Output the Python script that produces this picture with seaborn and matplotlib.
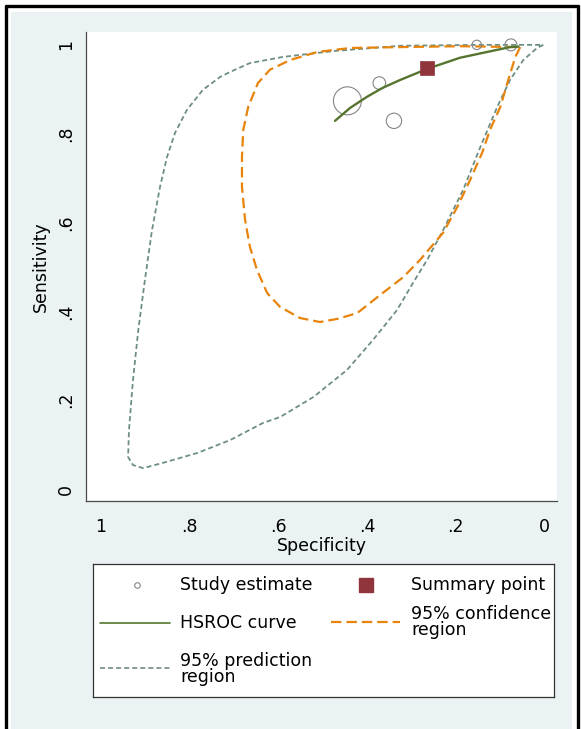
import matplotlib
matplotlib.use("Agg")
import matplotlib.pyplot as plt
from matplotlib.lines import Line2D
from matplotlib.patches import Rectangle
import seaborn as sns
import pandas as pd

# ---- data -------------------------------------------------------------
# individual studies (specificity, sensitivity, study weight)
study_spec = [0.444, 0.372, 0.339, 0.152, 0.075]
study_sens = [0.874, 0.914, 0.829, 1.000, 1.000]
study_weight = [196, 40, 59, 22, 36]

# summary operating point
summary_spec = [0.265]
summary_sens = [0.947]

# HSROC curve
hsroc_spec = [0.472, 0.438, 0.400, 0.365, 0.325, 0.264, 0.190, 0.129, 0.077, 0.058]
hsroc_sens = [0.829, 0.858, 0.883, 0.903, 0.921, 0.946, 0.971, 0.984, 0.995, 0.996]

# 95% confidence region around the summary point
conf_spec = [0.054, 0.065, 0.081, 0.099, 0.122, 0.140, 0.167, 0.196, 0.228, 0.280,
             0.318, 0.370, 0.422, 0.467, 0.506, 0.551, 0.596, 0.625, 0.648, 0.664,
             0.675, 0.682, 0.682, 0.679, 0.668, 0.646, 0.619, 0.573, 0.512, 0.438,
             0.325, 0.190, 0.054]
conf_sens = [0.995, 0.973, 0.921, 0.860, 0.809, 0.757, 0.696, 0.635, 0.577, 0.516,
             0.477, 0.437, 0.396, 0.383, 0.376, 0.385, 0.410, 0.441, 0.493, 0.545,
             0.606, 0.680, 0.748, 0.809, 0.860, 0.914, 0.944, 0.966, 0.984, 0.993,
             0.995, 0.997, 0.995]

# 95% prediction region
pred_spec = [0.002, 0.016, 0.047, 0.077, 0.106, 0.144, 0.183, 0.228, 0.264, 0.296,
             0.332, 0.386, 0.445, 0.521, 0.596, 0.634, 0.709, 0.783, 0.860, 0.905,
             0.928, 0.939, 0.937, 0.928, 0.916, 0.901, 0.885, 0.867, 0.851, 0.833,
             0.806, 0.770, 0.731, 0.709, 0.664, 0.589, 0.476, 0.325, 0.150, 0.002]
pred_sens = [1.000, 0.993, 0.966, 0.921, 0.860, 0.770, 0.673, 0.583, 0.516, 0.464,
             0.403, 0.336, 0.268, 0.207, 0.162, 0.149, 0.110, 0.081, 0.059, 0.047,
             0.054, 0.072, 0.133, 0.245, 0.358, 0.471, 0.583, 0.680, 0.748, 0.802,
             0.854, 0.899, 0.928, 0.939, 0.959, 0.973, 0.986, 0.998, 1.000, 1.000]

tick_values = [1, 0.8, 0.6, 0.4, 0.2, 0]
tick_labels = ["1", ".8", ".6", ".4", ".2", "0"]
ytick_values = [0, 0.2, 0.4, 0.6, 0.8, 1]
ytick_labels = ["0", ".2", ".4", ".6", ".8", "1"]

# ---- style ------------------------------------------------------------
sns.set_style("white")
plt.rcParams["font.family"] = ["DejaVu Sans"]
plt.rcParams["text.color"] = "black"
plt.rcParams["axes.labelcolor"] = "black"
plt.rcParams["lines.scale_dashes"] = False
FS = 12.5
C_STUDY = "#858585"
C_SUMMARY = "#90353B"
C_HSROC = "#55752F"
C_CONF = "#E8840C"
C_PRED = "#6E8E84"
C_AXIS = "#4a4a4a"
DASH_CONF = (0, (7.5, 3.6))
DASH_PRED = (0, (3.6, 2.2))

W, H = 581, 729
fig = plt.figure(figsize=(W / 100, H / 100), dpi=100)
fig.patch.set_facecolor("white")

# graph region background and outer frame
fig.patches.append(Rectangle((11 / W, 0), (572 - 11) / W, (H - 12) / H,
                             transform=fig.transFigure, facecolor="#EAF2F3",
                             edgecolor="none", zorder=-10))
for xs, ys in [([5.5, 5.5], [0, H - 5.5]), ([5.5, 577.5], [H - 5.5, H - 5.5]),
               ([577.5, 577.5], [0, H - 5.5])]:
    fig.lines.append(Line2D([x / W for x in xs], [y / H for y in ys],
                            transform=fig.transFigure, color="black", lw=2.4))

ax = fig.add_axes([86 / W, 1 - 501 / H, 471 / W, 469 / H])
ax.set_facecolor("white")

df_pred = pd.DataFrame({"spec": pred_spec, "sens": pred_sens})
df_conf = pd.DataFrame({"spec": conf_spec, "sens": conf_sens})
df_hs = pd.DataFrame({"spec": hsroc_spec, "sens": hsroc_sens})
df_st = pd.DataFrame({"spec": study_spec, "sens": study_sens, "w": study_weight})
df_sum = pd.DataFrame({"spec": summary_spec, "sens": summary_sens})

sns.lineplot(data=df_pred, x="spec", y="sens", sort=False, estimator=None, ax=ax,
             color=C_PRED, lw=1.3, linestyle=DASH_PRED, zorder=2)
sns.lineplot(data=df_conf, x="spec", y="sens", sort=False, estimator=None, ax=ax,
             color=C_CONF, lw=1.6, linestyle=DASH_CONF, zorder=3)

# study estimates: open circles, area proportional to weight
wmin, wmax = min(study_weight), max(study_weight)
sns.scatterplot(data=df_st, x="spec", y="sens", size="w",
                sizes=(2.07 * wmin, 2.07 * wmax), legend=False, ax=ax, zorder=4)
coll = ax.collections[-1]
coll.set_facecolor("none")
coll.set_edgecolor(C_STUDY)
coll.set_linewidth(0.8)

sns.lineplot(data=df_hs, x="spec", y="sens", sort=False, estimator=None, ax=ax,
             color=C_HSROC, lw=1.7, zorder=5)
sns.scatterplot(data=df_sum, x="spec", y="sens", marker="s", s=110,
                color=C_SUMMARY, edgecolor=C_SUMMARY, linewidth=0.5, ax=ax, zorder=6)

ax.set_xlim(1.034, -0.029)
ax.set_ylim(-0.027, 1.029)
ax.set_xticks(tick_values, tick_labels)
ax.set_yticks(ytick_values, ytick_labels)
ax.tick_params(axis="both", length=5, width=0.9, color=C_AXIS, labelsize=FS,
               labelcolor="black", direction="out")
ax.tick_params(axis="x", pad=7)
ax.tick_params(axis="y", pad=3, labelrotation=90)
for lab in ax.get_yticklabels():
    lab.set_va("center")
ax.set_xlabel("Specificity", fontsize=FS, labelpad=1, color="black")
ax.set_ylabel("Sensitivity", fontsize=FS, labelpad=5, color="black")
for side in ["top", "right"]:
    ax.spines[side].set_visible(False)
for side in ["left", "bottom"]:
    ax.spines[side].set_color(C_AXIS)
    ax.spines[side].set_linewidth(0.9)

# legend box
lx0, ly0, lx1, ly1 = 93, 564, 554, 697
lax = fig.add_axes([lx0 / W, 1 - ly1 / H, (lx1 - lx0) / W, (ly1 - ly0) / H])
lax.set_xlim(0, lx1 - lx0)
lax.set_ylim(ly1 - ly0, 0)
lax.set_xticks([])
lax.set_yticks([])
lax.set_facecolor("white")
for sp in lax.spines.values():
    sp.set_color("#333333")
    sp.set_linewidth(0.9)

lax.plot([44], [21], "o", mfc="none", mec=C_STUDY, ms=4, mew=0.8)
lax.text(87, 21, "Study estimate", va="center", fontsize=FS, color="black")
lax.plot([273], [21], "s", color=C_SUMMARY, ms=10.5)
lax.text(318, 21, "Summary point", va="center", fontsize=FS, color="black")
lax.plot([7, 77], [59, 59], color=C_HSROC, lw=1.2)
lax.text(87, 59, "HSROC curve", va="center", fontsize=FS, color="black")
lax.plot([238, 307], [58, 58], color=C_CONF, lw=1.6, linestyle=DASH_CONF)
lax.text(318, 58, "95% confidence\nregion", va="center", fontsize=FS,
         linespacing=0.9, color="black")
lax.plot([7, 77], [104, 104], color=C_PRED, lw=1.2, linestyle=DASH_PRED)
lax.text(87, 105, "95% prediction\nregion", va="center", fontsize=FS,
         linespacing=0.9, color="black")

fig.savefig("out.png", dpi=100)
